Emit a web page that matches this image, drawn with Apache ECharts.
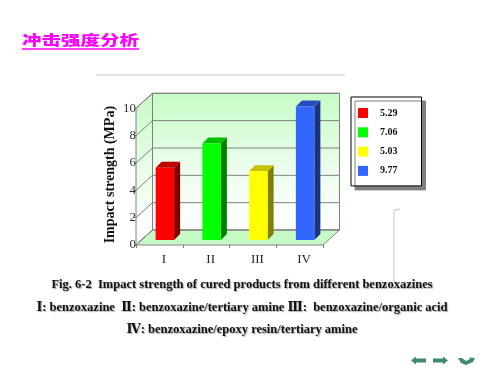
<!DOCTYPE html>
<html>
<head>
<meta charset="utf-8">
<style>html,body{margin:0;padding:0;background:#fff}#c{width:500px;height:375px}</style>
<script src="https://cdn.jsdelivr.net/npm/echarts@6/dist/echarts.min.js"></script>
</head>
<body>
<div id="c"></div>
<script>
var categories = ['I', 'II', 'III', 'IV'];
var values = [5.29, 7.06, 5.03, 9.77];
var yTicks = [0, 2, 4, 6, 8, 10];
var frontColors = ['#ff0000', '#00ff00', '#ffff00', '#3366ff'];
var topColors = ['#c00000', '#00c000', '#c8c000', '#264cbf'];
var sideColors = ['#800000', '#008000', '#808000', '#1a3380'];
var titleText = '冲击强度分析';
var captionLines = [
  'Fig. 6-2  Impact strength of cured products from different benzoxazines',
  'Ⅰ: benzoxazine  Ⅱ: benzoxazine/tertiary amine Ⅲ:  benzoxazine/organic acid',
  'Ⅳ: benzoxazine/epoxy resin/tertiary amine'
];
var yAxisName = 'Impact strength (MPa)';

var SERIF = '"Liberation Serif","DejaVu Serif","Times New Roman",serif';
var depthX = 16.5, depthY = 15, barShiftX = 5.5, barShiftY = 5, barW = 18.5, barDepth = 6;

function poly(points, fill, stroke) {
  return {type: 'polygon', shape: {points: points},
    style: {fill: fill, stroke: stroke || 'none', lineWidth: 1}};
}
function line(x1, y1, x2, y2) {
  return {type: 'line', shape: {x1: x1, y1: y1, x2: x2, y2: y2},
    style: {stroke: '#808080', lineWidth: 1}};
}
var wallFill = {type: 'linear', x: 0, y: 0, x2: 0, y2: 1, colorStops: [
  {offset: 0, color: '#c6fbc6'}, {offset: 0.55, color: '#ecfdec'}, {offset: 1, color: '#ffffff'}]};

function renderFrame(params, api) {
  var r = params.coordSys, L = r.x, R = r.x + r.width, T = r.y, B = r.y + r.height;
  var kids = [
    poly([[L + depthX, T - depthY], [R + depthX, T - depthY], [R + depthX, B - depthY], [L + depthX, B - depthY]], wallFill, '#808080'),
    poly([[L, T], [L + depthX, T - depthY], [L + depthX, B - depthY], [L, B]], wallFill, '#808080'),
    poly([[L, B], [L + depthX, B - depthY], [R + depthX, B - depthY], [R, B]], '#c6fbc6', '#808080')
  ];
  yTicks.forEach(function (t) {
    var y = api.coord([0, t])[1];
    kids.push(line(L, y, L + depthX, y - depthY));
    kids.push(line(L + depthX, y - depthY, R + depthX, y - depthY));
  });
  return {type: 'group', children: kids};
}
function renderBar(params, api) {
  var i = api.value(0);
  var top = api.coord([i, api.value(1)]), base = api.coord([i, 0]);
  var x0 = top[0] + barShiftX - barW / 2, x1 = x0 + barW;
  var yT = top[1] - barShiftY, yB = base[1] - barShiftY;
  return {type: 'group', children: [
    poly([[x1, yT], [x1 + barDepth, yT - barDepth], [x1 + barDepth, yB - barDepth], [x1, yB]], sideColors[i]),
    poly([[x0, yT], [x0 + barDepth, yT - barDepth], [x1 + barDepth, yT - barDepth], [x1, yT]], topColors[i]),
    {type: 'rect', shape: {x: x0, y: yT, width: barW, height: yB - yT}, style: {fill: frontColors[i]}}
  ]};
}

var series = [{type: 'custom', name: 'frame', renderItem: renderFrame, data: [[0, 0]], clip: false, silent: true, z: 1}];
values.forEach(function (v, i) {
  series.push({type: 'custom', name: v.toFixed(2), renderItem: renderBar, clip: false, z: 2,
    itemStyle: {color: frontColors[i]}, data: [[i, v]], encode: {x: 0, y: 1}});
});

var captionStyle = {fill: '#111', font: 'bold 12.5px ' + SERIF, textAlign: 'center', textVerticalAlign: 'middle',
  textShadowColor: '#aaaaaa', textShadowOffsetX: 1, textShadowOffsetY: 1, textShadowBlur: 1};

var chart = echarts.init(document.getElementById('c'), null, {renderer: 'canvas'});
chart.setOption({
  animation: false,
  backgroundColor: '#ffffff',
  grid: {left: 136, top: 108.3, width: 187, height: 136.7, containLabel: false},
  xAxis: {type: 'category', data: categories, boundaryGap: true,
    axisLine: {show: false},
    axisTick: {show: true, inside: false, length: 3, alignWithLabel: false, lineStyle: {color: '#808080'}},
    axisLabel: {fontFamily: SERIF, fontSize: 13, color: '#222', margin: 8, padding: [0, 0, 0, 9], interval: 0},
    splitLine: {show: false}},
  yAxis: {type: 'value', min: 0, max: 10, interval: 2,
    name: yAxisName, nameLocation: 'middle', nameGap: 19,
    nameTextStyle: {fontFamily: SERIF, fontSize: 14, fontWeight: 'bold', color: '#111', padding: [0, 0, 0, 4]},
    axisLine: {show: false},
    axisTick: {show: true, length: 2, lineStyle: {color: '#808080'}},
    axisLabel: {fontFamily: SERIF, fontSize: 13, color: '#333', margin: 0},
    splitLine: {show: false}},
  legend: {show: true, orient: 'vertical', left: 351, top: 97, selectedMode: false,
    data: values.map(function (v) { return v.toFixed(2); }),
    icon: 'rect', itemWidth: 10, itemHeight: 10, itemGap: 9.3,
    padding: [11, 24, 10, 7],
    backgroundColor: '#fff', borderColor: '#000', borderWidth: 1,
    shadowColor: '#808080', shadowOffsetX: 4, shadowOffsetY: 4, shadowBlur: 0,
    textStyle: {fontFamily: SERIF, fontSize: 10, fontWeight: 'bold', color: '#111', padding: [0, 0, 0, 7]}},
  series: series,
  graphic: {elements: [
    {type: 'text', x: 22, y: 33, scaleY: 0.72, z: 10, style: {text: titleText, fill: '#ff00ff',
      font: '900 19.5px "Noto Sans CJK SC"', textShadowColor: '#e8a0e8', textShadowOffsetX: 1, textShadowOffsetY: 1}},
    {type: 'line', z: 10, shape: {x1: 22, y1: 49, x2: 139, y2: 49}, style: {stroke: '#ff00ff', lineWidth: 1.5}},
    {type: 'line', z: 0, shape: {x1: 96, y1: 75, x2: 345, y2: 75}, style: {stroke: '#c4c4c4', lineWidth: 1}},
    {type: 'polyline', z: 0, shape: {points: [[400, 209], [394, 210], [394, 282]]}, style: {stroke: '#c4c4c4', lineWidth: 1, fill: 'none'}},
    {type: 'text', x: 242, y: 285, z: 10, style: Object.assign({}, captionStyle, {text: captionLines[0]})},
    {type: 'text', x: 242, y: 308, z: 10, style: Object.assign({}, captionStyle, {text: captionLines[1]})},
    {type: 'text', x: 242, y: 330, z: 10, style: Object.assign({}, captionStyle, {text: captionLines[2]})},
    {type: 'polygon', z: 10, shape: {points: [[411, 360.5], [416, 356.5], [416, 358.5], [426, 358.5], [426, 362.5], [416, 362.5], [416, 364.5]]}, style: {fill: '#3f8a70'}},
    {type: 'polygon', z: 10, shape: {points: [[448, 360.5], [443, 356.5], [443, 358.5], [433, 358.5], [433, 362.5], [443, 362.5], [443, 364.5]]}, style: {fill: '#3f8a70'}},
    {type: 'polygon', z: 10, shape: {points: [[458, 358], [462, 358], [466, 361], [470, 359], [469, 357.5], [475, 358], [473, 362], [466, 365], [461, 363]]}, style: {fill: '#3f8a70'}}
  ]}
});
</script>
</body>
</html>
